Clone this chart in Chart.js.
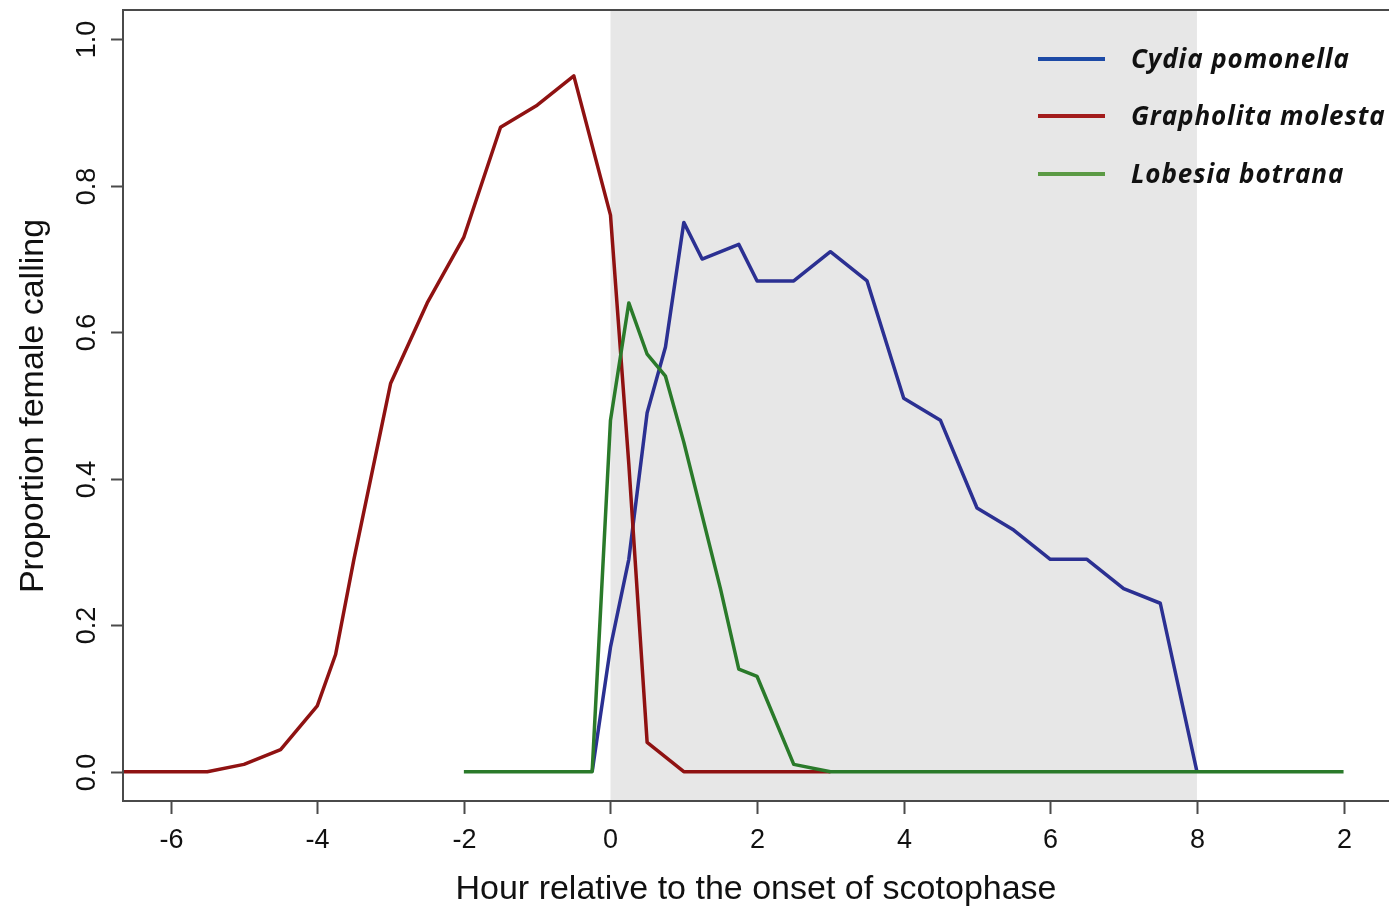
<!DOCTYPE html>
<html>
<head>
<meta charset="utf-8">
<script src="https://cdn.jsdelivr.net/npm/chart.js@4.4.1/dist/chart.umd.min.js"></script>
<style>
  body { margin: 0; background: #fff; }
  #chart { display: block; }
</style>
</head>
<body>
<canvas id="chart" width="1389" height="910"></canvas>
<script>
// hours relative to the onset of scotophase, proportion of females calling
const hoursCydia = [-0.25, 0, 0.25, 0.5, 0.75, 1, 1.25, 1.75, 2, 2.5, 3, 3.5, 4, 4.5, 5, 5.5, 6, 6.5, 7, 7.5, 8];
const propCydia  = [0, 0.17, 0.29, 0.49, 0.58, 0.75, 0.70, 0.72, 0.67, 0.67, 0.71, 0.67, 0.51, 0.48, 0.36, 0.33, 0.29, 0.29, 0.25, 0.23, 0];

const hoursGrapholita = [-7, -6.5, -6, -5.5, -5, -4.5, -4, -3.75, -3.5, -3, -2.5, -2, -1.5, -1, -0.5, 0, 0.25, 0.5, 1, 1.5, 2, 2.5, 3];
const propGrapholita  = [0, 0, 0, 0, 0.01, 0.03, 0.09, 0.16, 0.29, 0.53, 0.64, 0.73, 0.88, 0.91, 0.95, 0.76, 0.42, 0.04, 0, 0, 0, 0, 0];

const hoursLobesia = [-2, -1.5, -1, -0.5, -0.25, 0, 0.25, 0.5, 0.75, 1, 1.5, 1.75, 2, 2.5, 3, 4, 5, 6, 7, 8, 9, 10];
const propLobesia  = [0, 0, 0, 0, 0, 0.48, 0.64, 0.57, 0.54, 0.45, 0.25, 0.14, 0.13, 0.01, 0, 0, 0, 0, 0, 0, 0, 0];

const seriesNames = ['Cydia pomonella', 'Grapholita molesta', 'Lobesia botrana'];
const lineColors = ['#2b3092', '#8f1212', '#2a7a2a'];
const legendColors = ['#1d4aa6', '#a31c1c', '#5b9a44'];

const xTickValues = [-6, -4, -2, 0, 2, 4, 6, 8, 10];
const xTickLabels = ['-6', '-4', '-2', '0', '2', '4', '6', '8', '2'];
const yTickValues = [0, 0.2, 0.4, 0.6, 0.8, 1.0];
const yTickLabels = ['0.0', '0.2', '0.4', '0.6', '0.8', '1.0'];
const scotophase = [0, 8];

const xTitle = 'Hour relative to the onset of scotophase';
const yTitle = 'Proportion female calling';

function toPoints(xs, ys) {
  return xs.map((x, i) => ({ x: x, y: ys[i] }));
}

const axisFont = '"Liberation Sans", Arial, sans-serif';
const frameColor = '#4a4a4a';

// grey band for the dark period + R-style axes, labels and legend
const decorations = {
  id: 'decorations',
  beforeDatasetsDraw(chart) {
    const c = chart.ctx, a = chart.chartArea;
    const xs = chart.scales.x;
    const x0 = xs.getPixelForValue(scotophase[0]);
    const x1 = xs.getPixelForValue(scotophase[1]);
    c.save();
    c.fillStyle = '#e7e7e7';
    c.fillRect(x0, a.top, x1 - x0, a.bottom - a.top);
    c.restore();
  },
  afterDraw(chart) {
    const c = chart.ctx, a = chart.chartArea;
    const xs = chart.scales.x, ys = chart.scales.y;
    c.save();
    c.strokeStyle = frameColor;
    c.lineWidth = 2;
    c.beginPath();
    c.moveTo(a.right + 5, a.top); c.lineTo(a.left, a.top);
    c.lineTo(a.left, a.bottom); c.lineTo(a.right + 5, a.bottom);
    c.stroke();

    // x ticks
    c.fillStyle = '#111';
    c.font = '27px ' + axisFont;
    c.textAlign = 'center';
    c.textBaseline = 'alphabetic';
    xTickValues.forEach((v, i) => {
      const px = Math.round(xs.getPixelForValue(v)) + 0.5;
      c.beginPath();
      c.moveTo(px, a.bottom); c.lineTo(px, a.bottom + 13);
      c.stroke();
      c.fillText(xTickLabels[i], px, 848);
    });

    // y ticks, labels rotated like R's las=0
    yTickValues.forEach((v, i) => {
      const py = Math.round(ys.getPixelForValue(v)) + 0.5;
      c.beginPath();
      c.moveTo(a.left - 12, py); c.lineTo(a.left, py);
      c.stroke();
      c.save();
      c.translate(95, py);
      c.rotate(-Math.PI / 2);
      c.fillText(yTickLabels[i], 0, 0);
      c.restore();
    });

    // axis titles
    c.font = '34px ' + axisFont;
    c.fillText(xTitle, 756, 899);
    c.save();
    c.translate(43, 406);
    c.rotate(-Math.PI / 2);
    c.fillText(yTitle, 0, 0);
    c.restore();

    // legend
    const legY = [59, 116, 174];
    c.textAlign = 'left';
    c.font = 'italic bold 26px "Open Sans", Lato, sans-serif';
    c.letterSpacing = '0.9px';
    seriesNames.forEach((name, i) => {
      c.strokeStyle = legendColors[i];
      c.lineWidth = 4;
      c.beginPath();
      c.moveTo(1038, legY[i]); c.lineTo(1105, legY[i]);
      c.stroke();
      c.fillStyle = '#111';
      c.fillText(name, 1131, legY[i] + 9);
    });
    c.restore();
  }
};

new Chart(document.getElementById('chart'), {
  type: 'line',
  data: {
    datasets: [
      { label: seriesNames[0], data: toPoints(hoursCydia, propCydia), borderColor: lineColors[0], order: 2 },
      { label: seriesNames[1], data: toPoints(hoursGrapholita, propGrapholita), borderColor: lineColors[1], order: 1 },
      { label: seriesNames[2], data: toPoints(hoursLobesia, propLobesia), borderColor: lineColors[2], order: 0 }
    ]
  },
  options: {
    responsive: false,
    animation: false,
    devicePixelRatio: 1,
    layout: { padding: { left: 123, top: 10, right: 0, bottom: 109 } },
    elements: {
      line: { borderWidth: 3.5, tension: 0, fill: false, borderJoinStyle: 'round' },
      point: { radius: 0, hoverRadius: 0 }
    },
    scales: {
      x: { type: 'linear', min: -6.65, max: 10.62, display: false },
      y: { type: 'linear', min: -0.04, max: 1.04, display: false }
    },
    plugins: {
      legend: { display: false },
      tooltip: { enabled: false }
    }
  },
  plugins: [decorations]
});
</script>
</body>
</html>
